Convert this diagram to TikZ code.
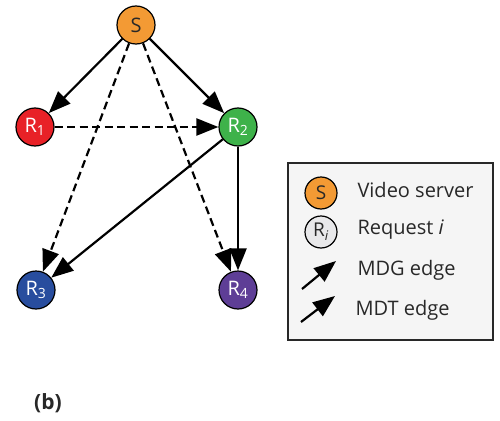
\documentclass[tikz,border=0pt]{standalone}
\usepackage{fontspec}
\setmainfont{Open Sans}
\usepackage{tikz}
\usetikzlibrary{arrows.meta,positioning,calc}

\definecolor{srvorange}{RGB}{243,154,52}
\definecolor{reqred}{RGB}{232,33,39}
\definecolor{reqgreen}{RGB}{62,178,74}
\definecolor{reqblue}{RGB}{40,77,158}
\definecolor{reqpurple}{RGB}{94,62,150}
\definecolor{reqgray}{RGB}{232,232,234}
\definecolor{boxgray}{RGB}{245,245,245}
\definecolor{txtdark}{RGB}{40,40,40}

\tikzset{
  vnode/.style={circle,draw=black,line width=1.2pt,minimum size=38pt,inner sep=0pt,font=\fontsize{20}{20}\selectfont},
  legtext/.style={anchor=west,text=txtdark,font=\fontsize{20}{20}\selectfont},
  mdg/.style={-{Triangle[length=22pt,width=17pt]},line width=2.2pt},
  mdt/.style={-{Triangle[length=22pt,width=17pt]},line width=2.2pt,dash pattern=on 8pt off 4.5pt},
}

\begin{document}
\begin{tikzpicture}[x=1pt,y=-1pt]
        \useasboundingbox (0,0) rectangle (500,420);
        % graph
        \node [vnode,fill=srvorange,text=txtdark] (s) at (136,25) {S};
        \node [vnode,fill=reqred,text=white] (r1) at (35,127) {R\textsubscript{1}};
        \node [vnode,fill=reqgreen,text=white] (r2) at (238,127) {R\textsubscript{2}};
        \node [vnode,fill=reqblue,text=white] (r3) at (36,290) {R\textsubscript{3}};
        \node [vnode,fill=reqpurple,text=white] (r4) at (238,290) {R\textsubscript{4}};
        \draw [mdg] (s) -- (r1);
        \draw [mdg] (s) -- (r2);
        \draw [mdt] (r1) -- (r2);
        \draw [mdt] (s) -- (r3);
        \draw [mdt] (s) -- (r4);
        \draw [mdg] (r2) -- (r3);
        \draw [mdg] (r2) -- (r4);
        % legend
        \draw [draw=txtdark,line width=1.4pt,fill=boxgray] (288,163) rectangle (493,340);
        \node [vnode,minimum size=32pt,font=\fontsize{19}{19}\selectfont,fill=srvorange,text=txtdark] (ls) at (321,193) {S};
        \node [vnode,minimum size=32pt,font=\fontsize{19}{19}\selectfont,fill=reqgray,text=txtdark] (lr) at (321,232) {R\textsubscript{\textit{i}}};
        \node [legtext] (lstext) at (354,190) {Video server};
        \node [legtext] (lrtext) at (354,230) {Request \textit{i}};
        \coordinate (ga) at (302,289);
        \coordinate (gb) at (336,261);
        \coordinate (ta) at (301,322);
        \coordinate (tb) at (335,296);
        \draw [mdg] (ga) -- (gb);
        \draw [mdg] (ta) -- (tb);
        \node [legtext] (lgtext) at (354,270) {MDG edge};
        \node [legtext] (lttext) at (352,310) {MDT edge};
        % caption
        \node [text=txtdark,font=\bfseries\fontsize{21}{21}\selectfont] (cap) at (48,403) {(b)};
\end{tikzpicture}
\end{document}
